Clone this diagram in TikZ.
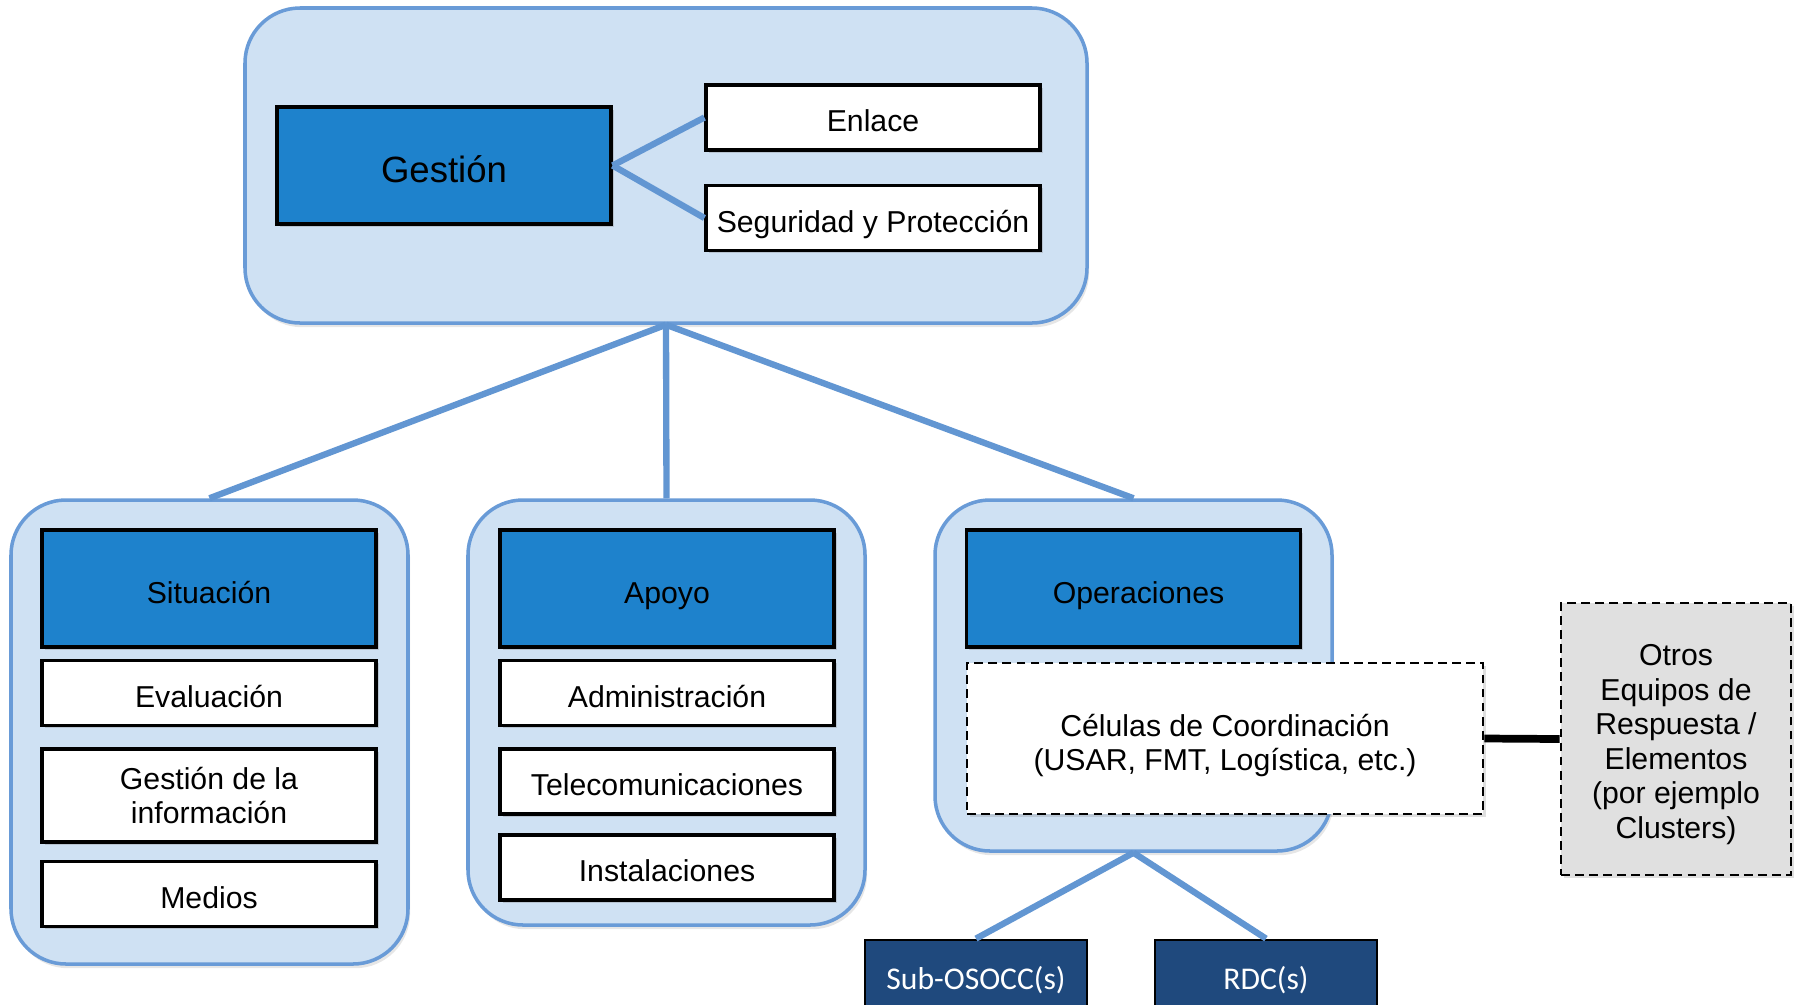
\documentclass[tikz,border=0pt]{standalone}
\usepackage{fontspec}
\setmainfont{Liberation Sans}
\newfontfamily\calibri{Carlito}
\usetikzlibrary{shadows}

\definecolor{panelfill}{RGB}{207,225,243}
\definecolor{paneldraw}{RGB}{105,155,215}
\definecolor{headfill}{RGB}{30,130,204}
\definecolor{linkblue}{RGB}{98,150,210}
\definecolor{navy}{RGB}{31,73,125}
\definecolor{otherfill}{RGB}{224,224,224}

\newcommand{\itemfont}{\fontsize{8.6}{9.8}\selectfont}

\begin{document}
\begin{tikzpicture}[
    panel/.style={
        rectangle,
        rounded corners=0.55cm,
        draw=paneldraw,
        line width=1pt,
        fill=panelfill,
        drop shadow={shadow xshift=0.6pt, shadow yshift=-1.2pt, opacity=0.2}
    },
    headbox/.style={
        rectangle,
        draw=black,
        line width=0.9pt,
        fill=headfill,
        minimum width=3.34cm,
        minimum height=1.17cm,
        text height=0.84em,
        text depth=0pt,
        font=\itemfont,
        drop shadow={shadow xshift=0.8pt, shadow yshift=-0.8pt, opacity=0.3}
    },
    itembox/.style={
        rectangle,
        draw=black,
        line width=0.9pt,
        fill=white,
        inner sep=2pt,
        minimum width=3.34cm,
        minimum height=0.65cm,
        align=center,
        font=\itemfont,
        drop shadow={shadow xshift=0.8pt, shadow yshift=-0.8pt, opacity=0.3}
    },
    linebox/.style={
        itembox,
        text height=0.8em,
        text depth=0pt
    },
    dashbox/.style={
        rectangle,
        draw=black,
        line width=0.8pt,
        dash pattern=on 2.5pt off 1.5pt,
        align=center,
        font=\itemfont,
        drop shadow={shadow xshift=0.8pt, shadow yshift=-0.8pt, opacity=0.25}
    },
    navybox/.style={
        rectangle,
        draw=black,
        line width=0.8pt,
        fill=navy,
        text=white,
        minimum width=2.22cm,
        minimum height=0.8cm,
        font=\calibri\fontsize{9}{11}\selectfont
    },
    link/.style={
        draw=linkblue,
        line width=1.8pt
    }
]
    \useasboundingbox (0,0) rectangle (17.98,-10.04);

    % Panels
    \node[panel, minimum width=8.42cm, minimum height=3.15cm] (gestpanel) at (6.66,-1.655) {};
    \node[panel, minimum width=3.97cm, minimum height=4.64cm] (sitpanel) at (2.095,-7.32) {};
    \node[panel, minimum width=3.97cm, minimum height=4.25cm] (apopanel) at (6.665,-7.125) {};
    \node[panel, minimum width=3.97cm, minimum height=3.51cm] (opepanel) at (11.335,-6.755) {};

    % Gestion
    \node[headbox, text height=0.98em, font=\fontsize{10.4}{12}\selectfont] (gestion) at (4.44,-1.655) {Gestión};
    \node[linebox] (enlace) at (8.73,-1.175) {Enlace};
    \node[linebox] (seguridad) at (8.73,-2.18) {Seguridad y Protección};

    % Situacion
    \node[headbox] (situacion) at (2.09,-5.885) {Situación};
    \node[linebox] (evaluacion) at (2.09,-6.93) {Evaluación};
    \node[itembox, minimum height=0.93cm] (infogest) at (2.09,-7.955) {Gestión de la\\información};
    \node[linebox] (medios) at (2.09,-8.94) {Medios};

    % Apoyo
    \node[headbox] (apoyo) at (6.67,-5.885) {Apoyo};
    \node[linebox] (admin) at (6.67,-6.93) {Administración};
    \node[linebox] (telecom) at (6.67,-7.815) {Telecomunicaciones};
    \node[linebox] (instal) at (6.67,-8.675) {Instalaciones};

    % Operaciones
    \node[headbox] (operaciones) at (11.335,-5.885) {\hspace*{0.1cm}Operaciones};
    \node[dashbox, fill=white, minimum width=5.16cm, minimum height=1.51cm] (celulas) at (12.25,-7.385)
        {\rule{0pt}{10.2pt}Células de Coordinación\\(USAR, FMT, Logística, etc.)};
    \node[dashbox, fill=otherfill, minimum width=2.30cm, minimum height=2.72cm] (otros) at (16.76,-7.39)
        {\rule{0pt}{9.2pt}Otros\\Equipos de\\Respuesta /\\Elementos\\(por ejemplo\\Clusters)};
    \node[navybox] (subosocc) at (9.76,-9.80) {Sub-OSOCC(s)};
    \node[navybox] (rdc) at (12.66,-9.80) {RDC(s)};

    % Connections
    \draw[link] (gestion.east) -- (enlace.west);
    \draw[link] (gestion.east) -- (seguridad.west);
    \draw[link] (gestpanel.south) -- (sitpanel.north);
    \draw[link] (gestpanel.south) -- (apopanel.north);
    \draw[link] (gestpanel.south) -- (opepanel.north);
    \draw[link] (opepanel.south) -- (subosocc.north);
    \draw[link] (opepanel.south) -- (rdc.north);
    \draw[line width=2.2pt] (celulas.east) -- (otros.west);

\end{tikzpicture}
\end{document}
